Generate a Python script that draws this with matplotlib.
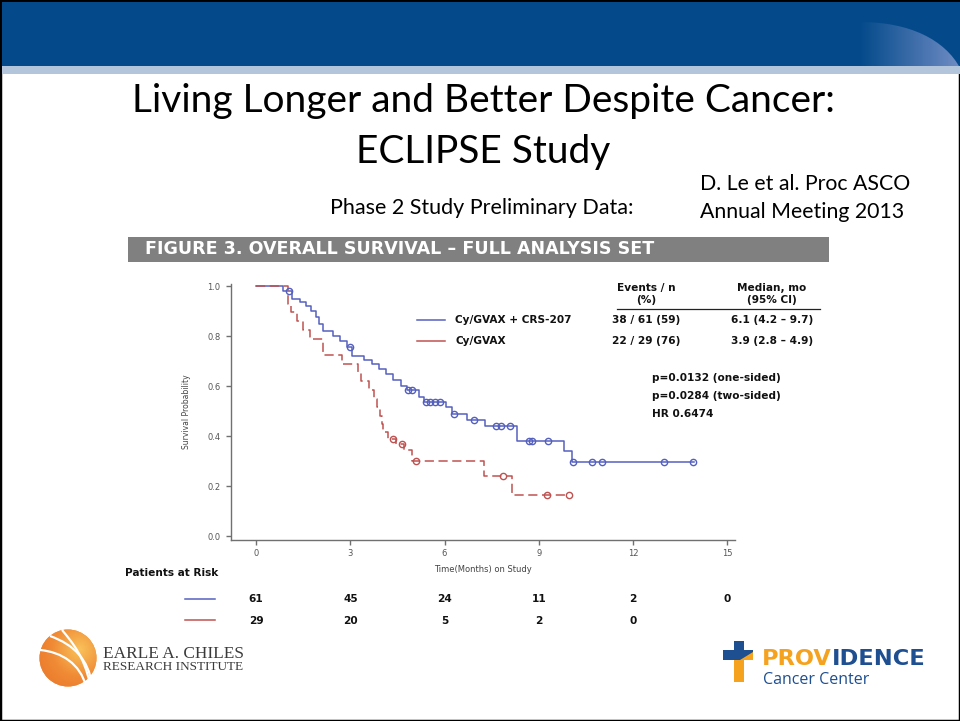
import numpy as np
import matplotlib
matplotlib.use("Agg")
import matplotlib.pyplot as plt
from matplotlib.patches import Rectangle, Circle, PathPatch, Polygon
from matplotlib.path import Path
from matplotlib.transforms import blended_transform_factory

# ---- data ----
blue_times = [0, 0.85, 1.15, 1.4, 1.6, 1.75, 1.9, 2.0, 2.13, 2.45, 2.67, 2.9, 3.05, 3.45,
              3.7, 3.9, 4.15, 4.35, 4.6, 4.8, 5.2, 5.35, 6.05, 6.25, 6.7, 7.3, 8.3, 9.8, 10.05]
blue_surv = [1.0, 0.98, 0.95, 0.935, 0.92, 0.90, 0.875, 0.85, 0.82, 0.80, 0.78, 0.755, 0.72, 0.705,
             0.69, 0.67, 0.65, 0.625, 0.60, 0.585, 0.555, 0.535, 0.515, 0.49, 0.465, 0.44, 0.38, 0.34, 0.295]
blue_end = 13.95
blue_censor = [1.05, 3.0, 4.85, 4.95, 5.4, 5.55, 5.7, 5.85, 6.3, 6.95, 7.65, 7.8, 8.1,
               8.7, 8.8, 9.3, 10.1, 10.7, 11.0, 13.0, 13.9]

red_times = [0, 1.0, 1.1, 1.3, 1.5, 1.7, 2.13, 2.75, 3.25, 3.35, 3.6, 3.75, 3.85, 3.95,
             4.0, 4.05, 4.2, 4.45, 4.7, 4.95, 7.25, 8.15]
red_surv = [1.0, 0.93, 0.895, 0.86, 0.825, 0.79, 0.725, 0.69, 0.655, 0.62, 0.585, 0.55, 0.515, 0.48,
            0.45, 0.415, 0.39, 0.37, 0.345, 0.30, 0.24, 0.165]
red_end = 9.95
red_censor = [4.35, 4.65, 5.1, 7.85, 9.25, 9.95]

risk_months = [0, 3, 6, 9, 12, 15]
risk_blue = ["61", "45", "24", "11", "2", "0"]
risk_red = ["29", "20", "5", "2", "0"]

x_ticks = [0, 3, 6, 9, 12, 15]
y_ticks = [0.0, 0.2, 0.4, 0.6, 0.8, 1.0]

BLUE = "#5560BE"
RED = "#BE5250"
HEAD = "#044A8B"

fig = plt.figure(figsize=(9.6, 7.21), dpi=100)
bg = fig.add_axes([0, 0, 1, 1])
bg.set_xlim(0, 960)
bg.set_ylim(721, 0)
bg.axis("off")

# slide border + header
bg.add_patch(Rectangle((0, 0), 960, 721, fill=False, ec="black", lw=2.5))
bg.add_patch(Rectangle((2, 2), 958, 64, color=HEAD, lw=0))
bg.add_patch(Rectangle((2, 66), 958, 8, color="#B2C5DB", lw=0))
verts = [(860, 66), (860, 22), (910, 22), (945, 40), (960, 68), (960, 66), (860, 66)]
codes = [Path.MOVETO, Path.LINETO, Path.CURVE4, Path.CURVE4, Path.CURVE4, Path.LINETO, Path.CLOSEPOLY]
shape = PathPatch(Path(verts, codes), fc="none", ec="none")
bg.add_patch(shape)
grad = np.linspace(0, 1, 200).reshape(1, -1)
cmap = matplotlib.colors.LinearSegmentedColormap.from_list("h", [HEAD, "#6F8CC4"])
im = bg.imshow(grad, extent=(860, 960, 66, 22), cmap=cmap, aspect="auto", zorder=1)
im.set_clip_path(shape)

# titles
tf = "Lato"
bg.text(483, 101, "Living Longer and Better Despite Cancer:", ha="center", va="center",
        fontsize=28, family=tf)
bg.text(483, 152, "ECLIPSE Study", ha="center", va="center", fontsize=28, family=tf)
bg.text(482, 208, "Phase 2 Study Preliminary Data:", ha="center", va="center", fontsize=15.5, family=tf)
bg.text(700, 184, "D. Le et al. Proc ASCO", ha="left", va="center", fontsize=15.3, family=tf)
bg.text(700, 212, "Annual Meeting 2013", ha="left", va="center", fontsize=15.3, family=tf)

# figure caption bar
bg.add_patch(Rectangle((128, 237), 701, 25, color="#808080", lw=0))
bg.text(145, 249.5, "FIGURE 3. OVERALL SURVIVAL \u2013 FULL ANALYSIS SET", ha="left", va="center",
        color="white", fontsize=12.6, fontweight="bold", family="DejaVu Sans")

# ---- KM plot ----
ax = fig.add_axes([231 / 960, 1 - 540 / 721, 504 / 960, 256 / 721])
ax.set_xlim(-0.8, 15.25)
ax.set_ylim(-0.016, 1.008)
for s in ["top", "right"]:
    ax.spines[s].set_visible(False)
for s in ["left", "bottom"]:
    ax.spines[s].set_color("#707070")
    ax.spines[s].set_linewidth(1.0)
ax.set_xticks(x_ticks)
ax.set_yticks(y_ticks)
ax.set_yticklabels(["%.1f" % v for v in y_ticks])
ax.tick_params(direction="out", length=3.5, width=1, color="#707070", labelsize=6,
               labelcolor="#555555")
ax.tick_params(axis="y", pad=4)
ax.tick_params(axis="x", pad=3)
for lab in ax.get_xticklabels() + ax.get_yticklabels():
    lab.set_family("DejaVu Sans")
ax.patch.set_alpha(0)

ax.step(blue_times + [blue_end], blue_surv + [blue_surv[-1]], where="post", color=BLUE, lw=1.1)
ax.step(red_times + [red_end], red_surv + [red_surv[-1]], where="post", color=RED, lw=1.1,
        dashes=(6, 3))


def surv_at(t, times, surv):
    i = np.searchsorted(times, t, side="right") - 1
    return surv[i]


ax.plot(blue_censor, [surv_at(t, blue_times, blue_surv) for t in blue_censor], "o", ms=4.5,
        mfc="none", mec=BLUE, mew=1.0)
ax.plot(red_censor, [surv_at(t, red_times, red_surv) for t in red_censor], "o", ms=4.5,
        mfc="none", mec=RED, mew=1.0)

ax.set_xlabel("Time(Months) on Study", fontsize=6, color="#444444", family="DejaVu Sans",
              labelpad=5)
ax.set_ylabel("Survival Probability", fontsize=5.5, color="#444444", family="DejaVu Sans",
              labelpad=12)

# legend and table
bf = dict(fontsize=7.6, fontweight="bold", family="DejaVu Sans", color="#111111", va="center")
bg.plot([417, 445], [320, 320], color=BLUE, lw=1.1)
bg.plot([417, 445], [341, 341], color=RED, lw=1.1)
bg.text(455, 320, "Cy/GVAX + CRS-207", ha="left", **bf)
bg.text(455, 341, "Cy/GVAX", ha="left", **bf)
bg.text(646, 288, "Events / n", ha="center", **bf)
bg.text(646, 300, "(%)", ha="center", **bf)
bg.text(772, 288, "Median, mo", ha="center", **bf)
bg.text(772, 300, "(95% CI)", ha="center", **bf)
bg.plot([617, 820], [309, 309], color="#222222", lw=0.9)
bg.text(646, 320, "38 / 61 (59)", ha="center", **bf)
bg.text(646, 341, "22 / 29 (76)", ha="center", **bf)
bg.text(772, 320, "6.1 (4.2 \u2013 9.7)", ha="center", **bf)
bg.text(772, 341, "3.9 (2.8 \u2013 4.9)", ha="center", **bf)
bg.text(652, 378, "p=0.0132 (one-sided)", ha="left", **bf)
bg.text(652, 396, "p=0.0284 (two-sided)", ha="left", **bf)
bg.text(652, 414, "HR 0.6474", ha="left", **bf)

# patients at risk
bg.text(125, 573, "Patients at Risk", ha="left", **bf)
bg.plot([185, 215], [599, 599], color=BLUE, lw=1.1)
bg.plot([185, 215], [620, 620], color=RED, lw=1.1)
tr = blended_transform_factory(ax.transData, bg.transData)
for m, v in zip(risk_months, risk_blue):
    ax.text(m, 599, v, transform=tr, ha="center", clip_on=False, **bf)
for m, v in zip(risk_months, risk_red):
    ax.text(m, 621, v, transform=tr, ha="center", clip_on=False, **bf)

# Earle A. Chiles logo
circ = Circle((68, 658), 28.5, fc="#F08A35", ec="none")
bg.add_patch(circ)
rg = np.linspace(0, 1, 100)
X, Y = np.meshgrid(rg, rg)
R = np.sqrt((X - 0.7) ** 2 + (Y - 0.35) ** 2)
ocmap = matplotlib.colors.LinearSegmentedColormap.from_list("o", ["#F9C25A", "#F08A35", "#E8742A"])
oim = bg.imshow(R, extent=(39, 97, 687, 629), cmap=ocmap, aspect="auto", zorder=2)
oim.set_clip_path(circ)
for p in [[(50, 636), (75, 645), (88, 660), (92, 684)],
          [(40, 650), (62, 652), (80, 664), (86, 686)],
          [(62, 630), (72, 642), (84, 656), (90, 684)]]:
    bg.add_patch(PathPatch(Path(p, [Path.MOVETO, Path.CURVE4, Path.CURVE4, Path.CURVE4]),
                           fc="none", ec="white", lw=1.6, zorder=3))
bg.text(103, 654, "EARLE A. CHILES", ha="left", va="center", fontsize=12.4,
        family="Liberation Serif", color="#3A3A3A")
bg.text(103, 667, "RESEARCH INSTITUTE", ha="left", va="center", fontsize=9.5,
        family="Liberation Serif", color="#3A3A3A")

# Providence logo
PB = "#1E4F91"
PO = "#F5A21F"
bg.add_patch(Rectangle((734, 641), 10, 41, color=PO, lw=0, zorder=2))
bg.add_patch(Rectangle((734, 641), 10, 9, color=PB, lw=0, zorder=3))
bg.add_patch(Rectangle((723, 650), 30, 10, color=PB, lw=0, zorder=3))
bg.add_patch(Polygon([(740, 660), (753, 652), (753, 660)], color=PO, lw=0, zorder=4))
t1 = bg.text(762, 665, "PROV", ha="left", va="baseline", fontsize=16.2, fontweight="bold",
             family="DejaVu Sans", color=PO)
bg.annotate("IDENCE", xy=(1, 0), xycoords=t1, ha="left", va="bottom", fontsize=16.2,
            fontweight="bold", family="DejaVu Sans", color=PB)
bg.text(763, 680, "Cancer Center", ha="left", va="center", fontsize=11.5, family="Open Sans",
        color=PB)

fig.savefig("out.png", dpi=100)
